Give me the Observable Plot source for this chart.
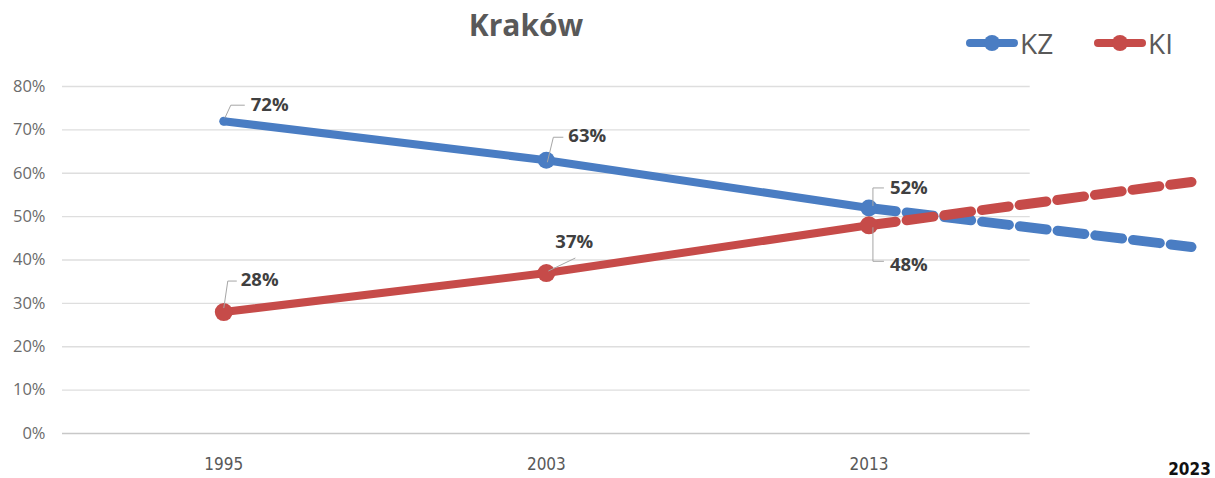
<!DOCTYPE html>
<html>
<head>
<meta charset="utf-8">
<script src="https://cdn.jsdelivr.net/npm/d3@7"></script>
<script src="https://cdn.jsdelivr.net/npm/@observablehq/plot@0.6"></script>
<style>
  html, body { margin: 0; padding: 0; background: #fff; }
  #wrap { position: relative; width: 1215px; height: 478px; overflow: hidden; }
  #title { position: absolute; left: 526px; top: 7px; transform: translateX(-50%);
           font-family: "Open Sans", sans-serif; font-weight: 700; font-size: 30px; color: #595959; line-height: 1.2; white-space: nowrap; }
  .leg { position: absolute; top: 29px; display: flex; align-items: center;
         font-family: "Open Sans", sans-serif; font-size: 28px; color: #595959; line-height: 1; }
  .leg svg { display: block; margin-right: 2px; }
</style>
</head>
<body>
<div id="wrap">
  <div id="chart"></div>
  <div id="title">Kraków</div>
  <div id="legend"></div>
</div>
<script>
// ---- data ----
const years = ["1995", "2003", "2013"];
const kz = [72, 63, 52];
const ki = [28, 37, 48];
const projYear = "2023";
const kzProj = 43;
const kiProj = 58;
const seriesNames = ["KZ", "KI"];
const seriesColors = ["#4A7DC3", "#C64B49"];
const yTicks = [0, 10, 20, 30, 40, 50, 60, 70, 80];

// ---- tables ----
const rows = [];
years.forEach((yr, i) => {
  rows.push({series: "KZ", i, year: yr, v: kz[i]});
  rows.push({series: "KI", i, year: yr, v: ki[i]});
});
const last = years.length - 1;
const proj = [
  {series: "KZ", i: last, v: kz[last]}, {series: "KZ", i: last + 1, v: kzProj},
  {series: "KI", i: last, v: ki[last]}, {series: "KI", i: last + 1, v: kiProj}
];
const xTickRows = years.map((yr, i) => ({i, yr}));

// leader line symbol factory
const leader = (pts) => ({
  draw(ctx) {
    ctx.moveTo(pts[0][0], pts[0][1]);
    for (let k = 1; k < pts.length; ++k) ctx.lineTo(pts[k][0], pts[k][1]);
  }
});

// label specs (offsets are style)
const labelSpecs = [
  {series: "KZ", i: 0, dx: 27, dy: -16, lead: [[1,-3],[7,-16],[21,-16]]},
  {series: "KZ", i: 1, dx: 22, dy: -24, lead: [[1,2],[7,-23],[17,-23]]},
  {series: "KZ", i: 2, dx: 21, dy: -20, lead: [[4,-2],[4,-20],[15,-20]]},
  {series: "KI", i: 0, dx: 17, dy: -32, lead: [[0,-4],[4,-31],[13,-31]]},
  {series: "KI", i: 1, dx: 9,  dy: -31, lead: [[2,-2],[29,-15]]},
  {series: "KI", i: 2, dx: 21, dy: 40,  lead: [[4,2],[4,36],[15,36]]}
];

const labelMarks = labelSpecs.flatMap(s => {
  const d = rows.filter(r => r.series === s.series && r.i === s.i);
  return [
    Plot.dot(d, {x: "i", y: "v", symbol: leader(s.lead), r: 1, fill: "none", stroke: "#a6a6a6", strokeWidth: 1}),
    Plot.text(d, {x: "i", y: "v", text: r => r.v + "%", dx: s.dx, dy: s.dy, textAnchor: "start",
      fontFamily: "Open Sans, sans-serif", fontWeight: 700, fontSize: 18.5, fill: "#404040"})
  ];
});

const kzRows = rows.filter(r => r.series === "KZ");
const kiRows = rows.filter(r => r.series === "KI");
const narrow = "Liberation Sans Narrow, DejaVu Sans Condensed, sans-serif";

const chart = Plot.plot({
  width: 1215,
  height: 478,
  marginLeft: 62,
  marginRight: 24,
  marginTop: 86,
  marginBottom: 45,
  style: {background: "#fff", overflow: "visible"},
  x: {type: "linear", domain: [-0.5, years.length], axis: null},
  y: {domain: [0, 80], axis: null},
  color: {domain: seriesNames, range: seriesColors},
  marks: [
    Plot.ruleY(yTicks, {x1: -0.5, x2: years.length - 0.5, stroke: d => d === 0 ? "#c8c8c8" : "#dedede", strokeWidth: 1.3}),
    // y tick labels
    Plot.text(yTicks, {x: -0.5, y: d => d, text: d => d + "%", dx: -17, textAnchor: "end",
      fontSize: 16.5, fontFamily: "Open Sans, sans-serif", fill: "#6b6b6b"}),
    // x tick labels
    Plot.text(xTickRows, {x: "i", y: 0, text: "yr", dy: 31.5,
      fontSize: 17, fontFamily: narrow, fill: "#595959"}),
    Plot.text([projYear], {x: years.length, y: 0, text: d => d, dy: 36.5, dx: -2,
      fontSize: 17, fontWeight: 700, fontFamily: narrow, fill: "#111"}),
    Plot.line(proj, {x: "i", y: "v", z: "series", stroke: "series", strokeWidth: 10, strokeDasharray: "27 11"}),
    Plot.line(kzRows, {x: "i", y: "v", stroke: "series", strokeWidth: 8, strokeLinecap: "round"}),
    Plot.dot(kzRows.slice(0, 1), {x: "i", y: "v", fill: "series", r: 4.5}),
    Plot.dot(kzRows.slice(1), {x: "i", y: "v", fill: "series", r: 8.5}),
    Plot.line(kiRows, {x: "i", y: "v", stroke: "series", strokeWidth: 8, strokeLinecap: "round"}),
    Plot.dot(kiRows, {x: "i", y: "v", fill: "series", r: 9}),
    ...labelMarks
  ]
});
document.getElementById("chart").appendChild(chart);

// legend
const legendPos = [966, 1094];
const legend = document.getElementById("legend");
seriesNames.forEach((name, k) => {
  const div = document.createElement("div");
  div.className = "leg";
  div.style.left = legendPos[k] + "px";
  div.innerHTML = `<svg width="52" height="20"><line x1="4" y1="10" x2="48" y2="10" stroke="${seriesColors[k]}" stroke-width="8" stroke-linecap="round"/><circle cx="26" cy="10" r="8" fill="${seriesColors[k]}"/></svg><span>${name}</span>`;
  legend.appendChild(div);
});
</script>
</body>
</html>
